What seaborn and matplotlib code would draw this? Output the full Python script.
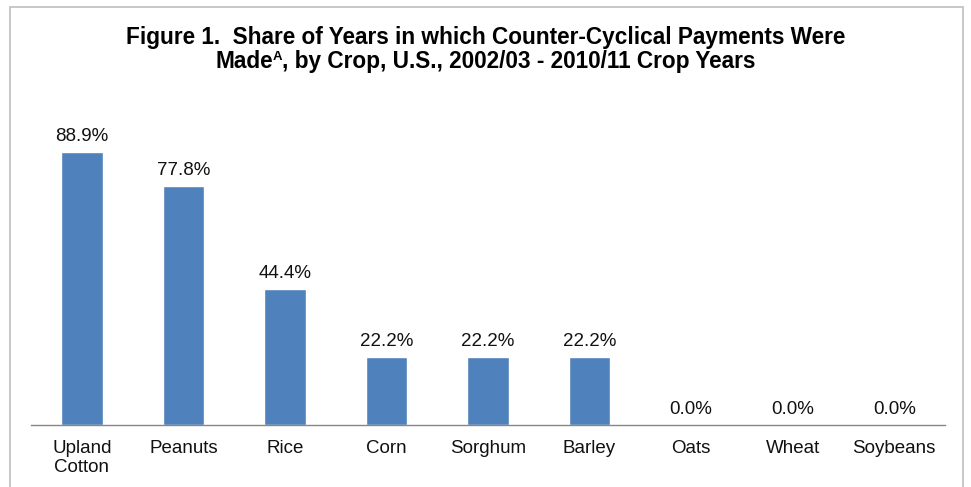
import matplotlib
matplotlib.use("Agg")
import matplotlib.pyplot as plt
import seaborn as sns
import pandas as pd
from matplotlib.patches import Rectangle

crops = ["Upland\nCotton", "Peanuts", "Rice", "Corn", "Sorghum", "Barley", "Oats", "Wheat", "Soybeans"]
share = [88.9, 77.8, 44.4, 22.2, 22.2, 22.2, 0.0, 0.0, 0.0]
title1 = "Figure 1.  Share of Years in which Counter-Cyclical Payments Were"
title2_parts = ["Made", "A", ", by Crop, U.S., 2002/03 - 2010/11 Crop Years"]

sns.set_theme(style="white")
plt.rcParams['font.family'] = ['Liberation Sans', 'DejaVu Sans']

df = pd.DataFrame({"crop": crops, "share": share})

fig = plt.figure(figsize=(9.71, 4.87), dpi=100)
ax = fig.add_axes([31/971, 62/487, 914/971, 307/487])

sns.barplot(data=df, x="crop", y="share", color="#4F81BD", saturation=1,
            width=0.41, ax=ax)

ax.set_ylim(0, 100)
ax.set_xlim(-0.5, len(crops) - 0.5)
ax.set_xlabel("")
ax.set_ylabel("")
ax.set_yticks([])
for s in ["top", "right", "left"]:
    ax.spines[s].set_visible(False)
ax.spines["bottom"].set_color("#868686")
ax.spines["bottom"].set_linewidth(1.0)

# tick marks between categories
ax.set_xticks([i - 0.5 for i in range(len(crops) + 1)], minor=False)
ax.set_xticklabels([])
ax.tick_params(axis="x", which="major", length=5, color="#868686", direction="out", width=1)
ax.set_xticks(range(len(crops)), minor=True)
ax.set_xticklabels(crops, minor=True, fontsize=13.5, color="#111111", linespacing=1.15)
ax.tick_params(axis="x", which="minor", length=0, pad=11)

for i, v in enumerate(share):
    ax.annotate(f"{v:.1f}%", (i, v), xytext=(0, 8), textcoords="offset points",
                ha="center", va="baseline", fontsize=13.5, color="#111111")

tfs = 16.3
fig.text(0.5, 1 - 44/487, title1, ha="center", va="baseline",
         fontsize=tfs, fontweight="bold", color="#000000")

# second title line with a small superscript "A"
renderer = fig.canvas.get_renderer()
y2 = 1 - 68/487
sizes = [tfs, 9.5, tfs]
tmp = [fig.text(0, 0, p, fontsize=s, fontweight="bold") for p, s in zip(title2_parts, sizes)]
widths = [t.get_window_extent(renderer).width for t in tmp]
for t in tmp:
    t.remove()
total = sum(widths)
x = 971 / 2 - total / 2
raise_px = [0, 8, 0]
for p, s, w, r in zip(title2_parts, sizes, widths, raise_px):
    fig.text(x / 971, y2 + r / 487, p, ha="left", va="baseline",
             fontsize=s, fontweight="bold", color="#000000")
    x += w

border = Rectangle((10/971, -0.05), 953/971, 1.05 - 7/487, transform=fig.transFigure,
                   fill=False, edgecolor="#BFBFBF", linewidth=1.2, clip_on=False)
fig.patches.append(border)

fig.savefig("out.png", dpi=100)
